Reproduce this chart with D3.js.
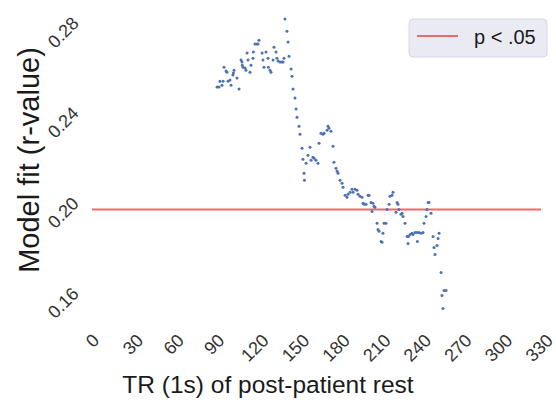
<!DOCTYPE html>
<html>
  <head>
    <meta charset="utf-8">
    <title>Model fit</title>
    <script type="text/javascript" src="https://cdn.jsdelivr.net/npm/d3@7"></script>
    <style>
    body {
      margin: 0;
      background: #fff;
      font-family: "Liberation Sans", Arial, sans-serif;
    }
    .tick text {
      font-size: 18px;
      fill: #333;
    }
    .title {
      fill: #1a1a1a;
    }
    .legend text {
      font-size: 20px;
      fill: #1a1a1a;
    }
    </style>
  </head>
  <body>
    <div id="chart"></div>
    <script type="text/javascript">

      // TR index of each point
      var trs = [92.3, 93.8, 94.5, 96.0, 96.8, 97.5, 99.0, 99.7, 100.5, 101.9,
        102.7, 104.1, 104.4, 104.9, 107.1, 108.6, 110.1, 110.8, 111.0, 111.5,
        113.0, 113.7, 114.5, 115.2, 116.7, 117.4, 118.9, 119.2, 120.4, 121.9,
        122.6, 123.3, 125.6, 126.3, 127.0, 128.5, 130.0, 130.3, 131.5, 132.2,
        133.7, 134.4, 135.9, 136.6, 137.4, 138.9, 140.3, 141.1, 141.8, 142.5,
        144.0, 144.8, 145.5, 147.0, 147.7, 148.5, 149.9, 150.7, 151.4,
        152.9, 153.6, 155.1, 155.8, 156.6, 156.9, 158.1, 159.5, 161.0, 161.8,
        163.2, 164.0, 165.4, 166.9, 167.7, 169.1, 170.6, 171.4, 173.6, 174.3,
        175.0, 176.5, 178.0, 178.7, 180.2, 181.0, 181.7, 183.2, 184.7, 185.4,
        186.9, 188.3, 189.1, 190.6, 192.0, 192.8, 194.3, 195.7, 196.5, 197.9,
        199.4,
        200.2, 200.9, 202.4, 203.9, 204.6, 206.1, 206.8, 207.5, 208.3, 209.0,
        210.5, 211.2, 212.0, 213.5, 214.2, 214.9, 215.7, 217.1, 217.9, 219.4,
        220.1, 221.6, 222.3, 224.5, 225.3, 226.0, 226.7, 228.2, 229.0, 229.7,
        231.2, 232.7, 233.4, 233.8, 234.9, 236.3, 237.1, 238.6, 240.0, 240.3,
        241.5, 243.0, 244.5, 245.2, 246.7, 247.4, 248.2, 248.9, 250.4, 251.9,
        252.6, 253.3, 254.8, 255.6, 256.3, 257.8, 258.5, 259.2, 260.0, 261.5];

      // model fit (r) for each TR
      var rvals = [.2556, .2556, .2582, .2564, .2582, .2644, .2627, .2622, .2582, .2587,
        .2564, .2609, .2618, .2631, .2596, .2547, .2676, .2667, .2653, .2644,
        .2640, .2631, .2707, .2676, .2622, .2653, .2684, .2711, .2747, .2747,
        .2747, .2764, .2707, .2676, .2644, .2711, .2684, .2644, .2631, .2622,
        .2676, .2733, .2711, .2684, .2671, .2667, .2667, .2667, .2684, .2858,
        .2804, .2756, .2693, .2636, .2604, .2547, .2507, .2458, .2422,
        .2382, .2347, .2284, .2236, .2173, .2142, .2218, .2253, .2289, .2231,
        .2244, .2240, .2231, .2218, .2307, .2351, .2347, .2351, .2364, .2382,
        .2373, .2360, .2293, .2222, .2196, .2182, .2173, .2142, .2129, .2111,
        .2076, .2067, .2080, .2089, .2102, .2089, .2102, .2098, .2080, .2071,
        .2067,
        .2040, .2036, .2036, .2076, .2076, .2044, .2004, .2040, .2027, .2022,
        .1951, .1924, .1916, .1871, .1867, .1907, .1951, .1951, .2013, .2036,
        .2071, .2076, .2089, .2000, .2044, .2036, .2013, .1991, .1996, .1982,
        .1951, .1893, .1862, .1893, .1902, .1907, .1902, .1911, .1911, .1871,
        .1911, .1907, .1911, .1951, .1982, .2013, .2044, .2044, .1996, .1893,
        .1844, .1813, .1853, .1884, .1907, .1733, .1631, .1573, .1653, .1653];

      var threshold = 0.2013;
      var legendLabel = 'p < .05';
      var xTicks = [0, 30, 60, 90, 120, 150, 180, 210, 240, 270, 300, 330];
      var yTicks = [0.16, 0.20, 0.24, 0.28];
      var xTitle = 'TR (1s) of post-patient rest';
      var yTitle = 'Model fit (r-value)';

      var width = 556, height = 408;
      var margin = {top: 5, right: 15, bottom: 83, left: 92};
      var w = width - margin.left - margin.right,
          h = height - margin.top - margin.bottom;

      var svg = d3.select('#chart').append('svg')
        .attr('width', width)
        .attr('height', height);
      var g = svg.append('g')
        .attr('transform', 'translate(' + margin.left + ',' + margin.top + ')');

      var x = d3.scaleLinear().domain([0, 331.6]).range([0, w]);
      var y = d3.scaleLinear().domain([0.15, 0.292]).range([h, 0]);

      // rotate a tick label by -45 keeping its bounding box against the axis
      var rotateLabel = function(sel, side) {
        sel.each(function() {
          var t = d3.select(this);
          t.attr('x', 0).attr('y', 0).attr('dy', null)
            .attr('text-anchor', 'middle')
            .attr('dominant-baseline', 'central');
          var b = this.getBBox();
          var half = (b.width + b.height * 0.75) / (2 * Math.SQRT2);
          var tx = 0, ty = 0;
          if (side == 'bottom') { ty = 7 + half; }
          else { tx = -11 - half; }
          t.attr('transform', 'translate(' + tx + ',' + ty + ') rotate(-45)');
        });
      };

      ///////////
      // axes  //
      ///////////
      var xAxis = g.append('g')
        .attr('transform', 'translate(0,' + h + ')')
        .call(d3.axisBottom(x).tickValues(xTicks).tickSize(0)
          .tickFormat(d3.format('d')));
      xAxis.select('.domain').remove();
      xAxis.selectAll('.tick text').call(rotateLabel, 'bottom');

      var yAxis = g.append('g')
        .call(d3.axisLeft(y).tickValues(yTicks).tickSize(0)
          .tickFormat(d3.format('.2f')));
      yAxis.select('.domain').remove();
      yAxis.selectAll('.tick text').call(rotateLabel, 'left');

      svg.append('text')
        .attr('class', 'title')
        .attr('x', 268)
        .attr('y', 393)
        .attr('text-anchor', 'middle')
        .style('font-size', '24.5px')
        .text(xTitle);
      svg.append('text')
        .attr('class', 'title')
        .attr('transform', 'translate(39,160) rotate(-90)')
        .attr('text-anchor', 'middle')
        .style('font-size', '29px')
        .text(yTitle);

      // threshold line
      g.append('line')
        .attr('x1', 0)
        .attr('x2', w)
        .attr('y1', y(threshold))
        .attr('y2', y(threshold))
        .style('stroke', '#ec6b6b')
        .style('stroke-width', 2);

      // points
      g.selectAll('circle')
        .data(trs)
        .enter()
        .append('circle')
        .attr('cx', function(d) { return x(d); })
        .attr('cy', function(d, i) { return y(rvals[i]); })
        .attr('r', 1.5)
        .style('fill', '#4c72b0');

      ////////////
      // legend //
      ////////////
      var legend = svg.append('g')
        .attr('class', 'legend')
        .attr('transform', 'translate(409,19)');
      legend.append('rect')
        .attr('width', 138)
        .attr('height', 38)
        .attr('rx', 4)
        .style('fill', '#eaeaf2')
        .style('stroke', '#d6d6de');
      legend.append('line')
        .attr('x1', 8)
        .attr('x2', 49)
        .attr('y1', 17)
        .attr('y2', 17)
        .style('stroke', '#ec6b6b')
        .style('stroke-width', 2);
      legend.append('text')
        .attr('x', 65)
        .attr('y', 25)
        .text(legendLabel);
    </script>
  </body>
</html>
